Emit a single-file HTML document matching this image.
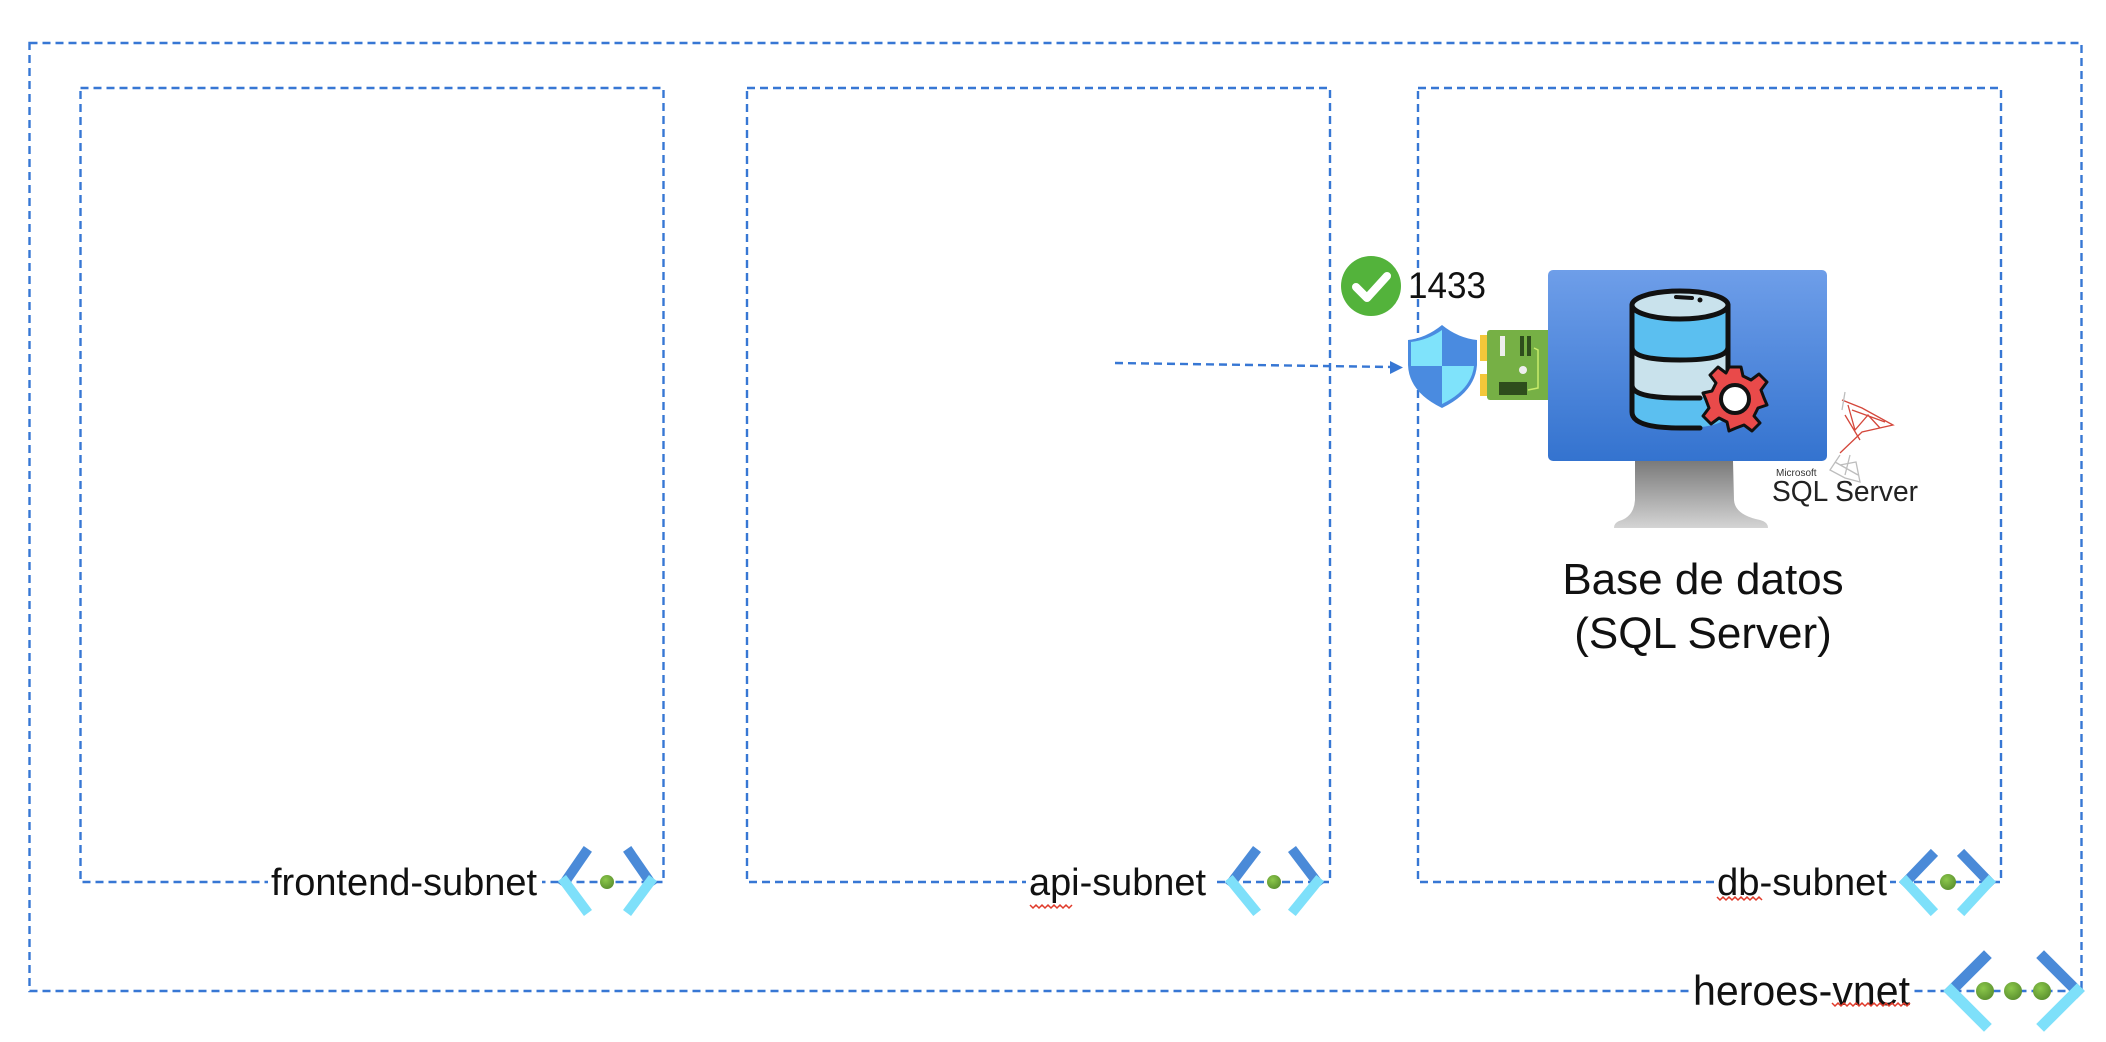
<!DOCTYPE html>
<html><head><meta charset="utf-8"><style>
html,body{margin:0;padding:0;background:#fff;}
svg{display:block;}
text{font-family:"Liberation Sans",sans-serif;fill:#111;}
</style></head><body>
<svg width="2106" height="1042" viewBox="0 0 2106 1042" xmlns="http://www.w3.org/2000/svg">
<defs>
<linearGradient id="scr" x1="0" y1="0" x2="0" y2="1"><stop offset="0" stop-color="#6e9ee9"/><stop offset="1" stop-color="#3473cf"/></linearGradient>
<linearGradient id="std" x1="0" y1="0" x2="0" y2="1"><stop offset="0" stop-color="#7a7a7a"/><stop offset="1" stop-color="#d4d4d4"/></linearGradient>
<radialGradient id="dot" cx="0.4" cy="0.35" r="0.7"><stop offset="0" stop-color="#8cc84b"/><stop offset="1" stop-color="#5a8f2e"/></radialGradient>
</defs>
<g fill="none" stroke="#3777d4" stroke-width="2.4" stroke-dasharray="8 5">
<rect x="29.5" y="43" width="2052" height="948"/>
<rect x="80.5" y="88" width="583" height="794"/>
<rect x="747" y="88" width="583" height="794"/>
<rect x="1418" y="88" width="583" height="794"/>
<line x1="1115" y1="363" x2="1392" y2="367"/>
</g>
<path d="M1390 361 L1403 367.5 L1390 374 Z" fill="#3777d4"/>

<!-- labels -->
<rect x="268" y="860" width="274" height="44" fill="#fff"/>
<text x="271" y="895" font-size="38" textLength="266" lengthAdjust="spacingAndGlyphs">frontend-subnet</text>
<rect x="1026" y="860" width="186" height="44" fill="#fff"/>
<text x="1029" y="895" font-size="38" textLength="177" lengthAdjust="spacingAndGlyphs">api-subnet</text>
<rect x="1714" y="860" width="176" height="44" fill="#fff"/>
<text x="1717" y="895" font-size="38" textLength="170" lengthAdjust="spacingAndGlyphs">db-subnet</text>
<rect x="1690" y="967" width="224" height="48" fill="#fff"/>
<text x="1693" y="1005" font-size="42" textLength="217" lengthAdjust="spacingAndGlyphs">heroes-vnet</text>
<g fill="none" stroke="#e03a2a" stroke-width="1.5">
<path d="M1030 905 l3 3 l3 -3 l3 3 l3 -3 l3 3 l3 -3 l3 3 l3 -3 l3 3 l3 -3 l3 3 l3 -3 l3 3 l3 -3"/>
<path d="M1717 897 l3 3 l3 -3 l3 3 l3 -3 l3 3 l3 -3 l3 3 l3 -3 l3 3 l3 -3 l3 3 l3 -3 l3 3 l3 -3 l3 3"/>
<path d="M1832 1003 l3 3 l3 -3 l3 3 l3 -3 l3 3 l3 -3 l3 3 l3 -3 l3 3 l3 -3 l3 3 l3 -3 l3 3 l3 -3 l3 3 l3 -3 l3 3 l3 -3 l3 3 l3 -3 l3 3 l3 -3 l3 3 l3 -3 l3 3 l3 -3"/>
</g>

<!-- subnet icons -->
<g stroke-width="10" stroke-linecap="square" fill="none">
<g transform="translate(561,849)">
<path d="M4 33 L24 4" stroke="#4a8ad8"/><path d="M4 33 L24 60" stroke="#7ee0fa"/>
<path d="M89 33 L69 4" stroke="#4a8ad8"/><path d="M89 33 L69 60" stroke="#7ee0fa"/>
</g>
<g transform="translate(1228,849)">
<path d="M4 33 L26 4" stroke="#4a8ad8"/><path d="M4 33 L26 60" stroke="#7ee0fa"/>
<path d="M89 33 L67 4" stroke="#4a8ad8"/><path d="M89 33 L67 60" stroke="#7ee0fa"/>
</g>
<g transform="translate(1900,849)">
<path d="M6 33 L31 7" stroke="#4a8ad8"/><path d="M6 33 L31 60" stroke="#7ee0fa"/>
<path d="M89 33 L64 7" stroke="#4a8ad8"/><path d="M89 33 L64 60" stroke="#7ee0fa"/>
</g>
<g stroke-width="11">
<path d="M1951 991 L1984 958" stroke="#4a8ad8"/><path d="M1951 991 L1984 1024" stroke="#7ee0fa"/>
<path d="M2077 991 L2044 958" stroke="#4a8ad8"/><path d="M2077 991 L2044 1024" stroke="#7ee0fa"/>
</g>
</g>
<circle cx="607" cy="882" r="7" fill="url(#dot)"/>
<circle cx="1274" cy="882" r="7" fill="url(#dot)"/>
<circle cx="1948" cy="882" r="8" fill="url(#dot)"/>
<circle cx="1985" cy="991" r="9" fill="url(#dot)"/>
<circle cx="2013" cy="991" r="9" fill="url(#dot)"/>
<circle cx="2042" cy="991" r="9" fill="url(#dot)"/>

<!-- check + 1433 -->
<circle cx="1371" cy="286" r="30" fill="#53b33b"/>
<path d="M1356 287 L1367 298 L1387 276" stroke="#fff" stroke-width="8" fill="none" stroke-linecap="round" stroke-linejoin="round"/>
<text x="1408" y="298" font-size="37" textLength="78" lengthAdjust="spacingAndGlyphs">1433</text>

<!-- shield -->
<path d="M1442 325 Q1458 338 1477 340 L1477 365 Q1475 392 1442 408 Q1409 392 1408 365 L1408 340 Q1426 338 1442 325 Z" fill="#4a8be0"/>
<path d="M1442 330 L1442 366 L1411 366 L1411 342 Q1428 340 1442 330 Z" fill="#7fe3fb"/>
<path d="M1442 366 L1474 366 Q1471 390 1442 404 Z" fill="#7fe3fb"/>
<!-- NIC -->
<rect x="1480" y="335" width="9" height="26" fill="#f4c73a"/>
<rect x="1480" y="374" width="9" height="22" fill="#f4c73a"/>
<rect x="1549" y="350" width="10" height="31" fill="#3a3a3a"/>
<rect x="1487" y="330" width="64" height="70" rx="3" fill="#76b045"/>
<rect x="1500" y="336" width="5" height="20" fill="#eee"/>
<rect x="1520" y="336" width="4" height="20" fill="#2e4d1c"/><rect x="1527" y="336" width="4" height="20" fill="#2e4d1c"/>
<circle cx="1523" cy="370" r="4" fill="#eee"/>
<rect x="1499" y="382" width="28" height="13" fill="#2e4d1c"/>
<path d="M1534 348 L1538 350 L1538 388 L1528 390" stroke="#c9ec6b" stroke-width="1.5" fill="none"/>

<!-- monitor -->
<path d="M1635 461 L1733 461 L1734 500 Q1735 515 1760 520 Q1768 522 1768 528 L1614 528 Q1614 522 1622 520 Q1634 515 1635 500 Z" fill="url(#std)"/>
<rect x="1548" y="270" width="279" height="191" rx="5" fill="url(#scr)"/>
<!-- database -->
<path d="M1632 305 L1632 412 Q1632 428 1680 428 Q1728 428 1728 412 L1728 305 Z" fill="#5bbff0"/>
<path d="M1632 347 Q1632 360 1680 360 Q1728 360 1728 347 L1728 385 Q1728 398 1680 398 Q1632 398 1632 385 Z" fill="#c9e2ec"/>
<g stroke="#111" stroke-width="5" fill="none" stroke-linecap="round">
<path d="M1632 305 L1632 412 Q1632 428 1680 428 L1700 428"/>
<path d="M1728 305 L1728 378"/>
<path d="M1632 347 Q1632 360 1680 360 Q1728 360 1728 347"/>
<path d="M1632 385 Q1632 398 1680 398 L1700 398"/>
<ellipse cx="1680" cy="305" rx="48" ry="14" fill="#c9e2ec"/>
</g>
<line x1="1676" y1="297" x2="1692" y2="298" stroke="#111" stroke-width="4" stroke-linecap="round"/>
<circle cx="1700" cy="300" r="2.5" fill="#111"/>
<!-- gear -->
<g transform="translate(1735,399)">
<path d="M-6 -32 L6 -32 L8 -23 L16 -19 L24 -25 L32 -17 L26 -9 L29 -1 L32 6 L23 9 L19 17 L25 24 L17 32 L9 26 L1 29 L-6 32 L-8 23 L-16 19 L-24 25 L-32 17 L-26 9 L-29 1 L-32 -6 L-23 -8 L-19 -16 L-25 -24 L-17 -32 L-9 -26 Z" fill="#e94a4a" stroke="#111" stroke-width="3" stroke-linejoin="round"/>
<circle r="14" fill="#fff" stroke="#111" stroke-width="4"/>
</g>
<!-- SQL Server logo -->
<g fill="none" stroke-width="1.3">
<path d="M1842 400 L1862 408 L1893 425 L1862 432 L1840 453 M1848 405 L1855 430 L1868 415 L1880 428 M1845 415 L1860 440 M1852 410 L1885 422" stroke="#d4473b"/>
<path d="M1845 392 L1842 410 M1840 455 L1830 470 L1845 478 L1860 482 L1856 462 L1840 465 M1850 455 L1845 475 M1835 462 L1858 475" stroke="#bdbdbd"/>
</g>
<text x="1776" y="476" font-size="10" style="fill:#333">Microsoft</text>
<text x="1772" y="501" font-size="29" style="fill:#222" textLength="146" lengthAdjust="spacingAndGlyphs">SQL Server</text>

<text x="1703" y="594" font-size="44" text-anchor="middle">Base de datos</text>
<text x="1703" y="648" font-size="44" text-anchor="middle">(SQL Server)</text>
</svg>
</body></html>
